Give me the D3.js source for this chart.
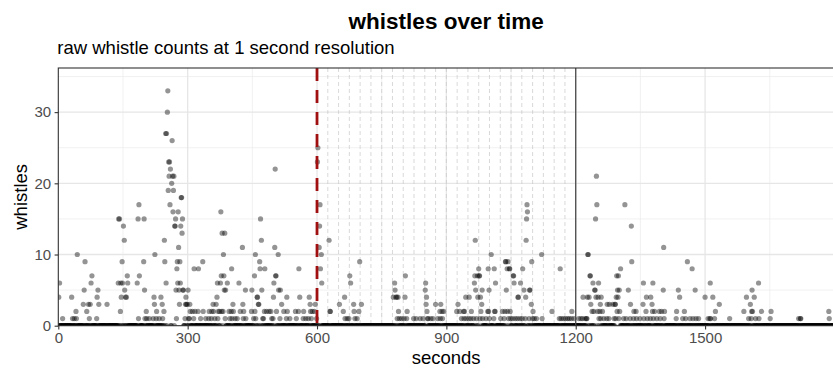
<!DOCTYPE html>
<html>
<head>
<meta charset="utf-8">
<script src="https://cdn.jsdelivr.net/npm/d3@7"></script>
<style>
  body { margin: 0; background: #fff; }
  svg { display: block; }
  text { font-family: "Liberation Sans", Arial, Helvetica, sans-serif; }
</style>
</head>
<body>
<svg id="chart" width="833" height="378"></svg>
<script>
// Whistle counts per second. Every second of the session that is not listed
// below had zero whistles.
const sessionSeconds = 1800;

const countLevels = [1, 2, 3, 4, 5, 6, 7, 8, 9, 10, 11, 12, 13, 14, 15, 16, 17, 18, 19, 20, 21, 22, 23, 25, 26, 27, 30, 33];

const secondsAtLevel = [
  // 1
  [10, 33, 37, 42, 72, 89, 186, 201, 205, 211, 220, 227, 234, 242, 274, 294, 302, 304, 314, 330, 342, 349, 355, 363, 370, 387, 398, 403, 410, 415, 429, 435, 453, 458, 474, 476, 495, 498, 514, 529, 537, 552, 568, 574, 580, 587, 599, 665, 670, 674, 688, 693, 786, 791, 796, 802, 808, 824, 830, 839, 846, 856, 858, 864, 869, 880, 886, 891, 935, 941, 946, 952, 957, 963, 970, 978, 984, 992, 1000, 1010, 1026, 1034, 1044, 1049, 1054, 1060, 1065, 1071, 1076, 1083, 1092, 1100, 1104, 1109, 1122, 1162, 1166, 1171, 1176, 1181, 1185, 1190, 1196, 1207, 1212, 1216, 1222, 1225, 1226, 1254, 1258, 1265, 1272, 1277, 1289, 1293, 1300, 1311, 1317, 1326, 1334, 1341, 1349, 1358, 1366, 1373, 1380, 1388, 1396, 1405, 1433, 1448, 1455, 1465, 1472, 1479, 1485, 1507, 1511, 1513, 1522, 1557, 1601, 1607, 1617, 1625, 1651, 1717, 1721, 1722, 1788],
  // 2
  [41, 66, 144, 204, 228, 245, 306, 311, 317, 324, 336, 350, 356, 360, 371, 374, 379, 382, 396, 401, 406, 422, 430, 448, 456, 478, 483, 489, 493, 506, 523, 531, 550, 557, 569, 585, 589, 594, 630, 631, 661, 686, 697, 789, 809, 855, 885, 890, 894, 924, 931, 940, 942, 958, 980, 996, 998, 1012, 1013, 1030, 1036, 1042, 1048, 1101, 1145, 1191, 1238, 1242, 1251, 1256, 1262, 1296, 1302, 1335, 1340, 1363, 1378, 1383, 1394, 1399, 1406, 1434, 1452, 1524, 1590, 1608, 1610, 1631, 1653, 1787],
  // 3
  [58, 70, 74, 94, 113, 223, 241, 281, 295, 297, 299, 305, 359, 366, 405, 428, 464, 465, 518, 584, 596, 652, 685, 703, 853, 875, 887, 927, 982, 1097, 1235, 1257, 1273, 1278, 1286, 1291, 1292, 1327, 1356, 1377, 1533, 1605],
  // 4
  [1, 31, 90, 146, 156, 158, 222, 238, 296, 368, 461, 462, 499, 530, 560, 582, 664, 777, 783, 785, 788, 804, 854, 945, 953, 973, 979, 1066, 1067, 1084, 1217, 1227, 1231, 1247, 1252, 1259, 1294, 1298, 1364, 1374, 1441, 1500, 1518, 1596, 1614],
  // 5
  [60, 92, 154, 200, 273, 280, 289, 290, 301, 385, 388, 434, 449, 472, 511, 515, 781, 851, 968, 983, 999, 1039, 1080, 1093, 1094, 1244, 1245, 1297, 1301, 1322, 1403, 1438, 1477, 1609],
  // 6
  [3, 76, 139, 145, 149, 161, 183, 250, 277, 283, 369, 376, 392, 419, 500, 611, 678, 780, 852, 965, 1014, 1057, 1072, 1240, 1253, 1357, 1379, 1512, 1624],
  // 7
  [78, 160, 188, 378, 384, 455, 504, 505, 676, 805, 966, 972, 976, 977, 1055, 1056, 1233, 1234, 1295, 1299],
  // 8
  [275, 315, 325, 402, 468, 479, 558, 608, 975, 997, 1011, 1041, 1046, 1047, 1077, 1164, 1304, 1470],
  // 9
  [62, 148, 198, 247, 276, 282, 335, 467, 699, 1037, 1038, 1043, 1098, 1330, 1459],
  // 10
  [44, 224, 383, 457, 510, 610, 1004, 1121, 1228, 1229],
  // 11
  [279, 427, 502, 605, 1404],
  // 12
  [153, 246, 471, 628, 967, 1085],
  // 13
  [287, 380, 386],
  // 14
  [151, 270, 271, 284, 606, 1329],
  // 15
  [140, 142, 185, 199, 272, 288, 469, 1086, 1246],
  // 16
  [266, 278, 377, 1088],
  // 17
  [187, 259, 607, 1087, 1249, 1314],
  // 18
  [285, 286],
  // 19
  [255, 267],
  // 20
  [263],
  // 21
  [257, 265, 268, 1248],
  // 22
  [260, 503],
  // 23
  [256, 258, 601],
  // 25
  [602],
  // 26
  [264],
  // 27
  [249, 251],
  // 30
  [253],
  // 33
  [254]
];

const xTickValues = [0, 300, 600, 900, 1200, 1500];
const yTickValues = [0, 10, 20, 30];

// Reference lines: start of the treatment window, its end, and 25 s sub-intervals.
const windowStart = 600;
const windowEnd = 1200;
const subIntervalStep = 25;

const titleText = "whistles over time";
const subtitleText = "raw whistle counts at 1 second resolution";
const xTitle = "seconds";
const yTitle = "whistles";

// ---- build the per-second table ----
const counted = new Map();
countLevels.forEach((lvl, i) => secondsAtLevel[i].forEach(s => counted.set(s, lvl)));
const records = [];
for (let s = 0; s < sessionSeconds; s++) {
  records.push({ sec: s, whistles: counted.has(s) ? counted.get(s) : 0 });
}
// zero seconds first so the counted points sit on top
records.sort((a, b) => (a.whistles > 0) - (b.whistles > 0) || a.sec - b.sec);

// ---- layout ----
const svg = d3.select("#chart");
const panel = { left: 58.3, right: 834, top: 68, bottom: 325.7 };

const x = d3.scaleLinear().domain([0, sessionSeconds - 1]).range([panel.left, panel.right]);
const y = d3.scaleLinear().domain([0, 36.2]).range([panel.bottom, panel.top]);

svg.append("rect").attr("width", 833).attr("height", 378).attr("fill", "#fff");

svg.append("defs").append("clipPath").attr("id", "panelClip")
  .append("rect")
  .attr("x", panel.left).attr("y", panel.top)
  .attr("width", panel.right - panel.left).attr("height", panel.bottom - panel.top);

const plot = svg.append("g").attr("clip-path", "url(#panelClip)");

// grid: minor then major
const xMinor = d3.range(150, sessionSeconds, 300);
const yMinor = [5, 15, 25, 35];
plot.append("g").selectAll("line").data(xMinor).join("line")
  .attr("x1", d => x(d)).attr("x2", d => x(d))
  .attr("y1", panel.top).attr("y2", panel.bottom)
  .attr("stroke", "#EBEBEB").attr("stroke-width", 0.7);
plot.append("g").selectAll("line").data(yMinor).join("line")
  .attr("y1", d => y(d)).attr("y2", d => y(d))
  .attr("x1", panel.left).attr("x2", panel.right)
  .attr("stroke", "#EBEBEB").attr("stroke-width", 0.7);
plot.append("g").selectAll("line").data(xTickValues).join("line")
  .attr("x1", d => x(d)).attr("x2", d => x(d))
  .attr("y1", panel.top).attr("y2", panel.bottom)
  .attr("stroke", "#E6E6E6").attr("stroke-width", 1.3);
plot.append("g").selectAll("line").data(yTickValues).join("line")
  .attr("y1", d => y(d)).attr("y2", d => y(d))
  .attr("x1", panel.left).attr("x2", panel.right)
  .attr("stroke", "#E6E6E6").attr("stroke-width", 1.3);

// sub-interval markers inside the window
const subMarks = d3.range(windowStart + subIntervalStep, windowEnd, subIntervalStep);
plot.append("g").selectAll("line").data(subMarks).join("line")
  .attr("x1", d => x(d)).attr("x2", d => x(d))
  .attr("y1", panel.top).attr("y2", panel.bottom)
  .attr("stroke", "#C8C8C8").attr("stroke-width", 0.7)
  .attr("stroke-dasharray", "4,3");

// points
plot.append("g").selectAll("circle").data(records).join("circle")
  .attr("cx", d => x(d.sec))
  .attr("cy", d => y(d.whistles))
  .attr("r", 2.6)
  .attr("fill", "#000")
  .attr("fill-opacity", 0.42);

// window start (dashed) and end (solid)
plot.append("line")
  .attr("x1", x(windowStart)).attr("x2", x(windowStart))
  .attr("y1", panel.top).attr("y2", panel.bottom)
  .attr("stroke", "#A01010").attr("stroke-width", 2.8)
  .attr("stroke-dasharray", "13,9");
plot.append("line")
  .attr("x1", x(windowEnd)).attr("x2", x(windowEnd))
  .attr("y1", panel.top).attr("y2", panel.bottom)
  .attr("stroke", "#4a4a4a").attr("stroke-width", 1.3);

// panel border
svg.append("rect")
  .attr("x", panel.left).attr("y", panel.top)
  .attr("width", panel.right - panel.left).attr("height", panel.bottom - panel.top)
  .attr("fill", "none").attr("stroke", "#333").attr("stroke-width", 1.1);

// axes
const xAxis = d3.axisBottom(x).tickValues(xTickValues).tickFormat(d3.format("d"))
  .tickSize(3.7).tickPadding(3);
const gx = svg.append("g").attr("transform", `translate(0,${panel.bottom})`).call(xAxis);
gx.select(".domain").remove();
gx.selectAll(".tick line").attr("stroke", "#333").attr("stroke-width", 1.1);
gx.selectAll(".tick text").attr("fill", "#4D4D4D").attr("font-size", 15)
  .attr("font-family", "Liberation Sans, Arial, sans-serif");

const yAxis = d3.axisLeft(y).tickValues(yTickValues).tickFormat(d3.format("d"))
  .tickSize(3.7).tickPadding(3.5);
const gy = svg.append("g").attr("transform", `translate(${panel.left},0)`).call(yAxis);
gy.select(".domain").remove();
gy.selectAll(".tick line").attr("stroke", "#333").attr("stroke-width", 1.1);
gy.selectAll(".tick text").attr("fill", "#4D4D4D").attr("font-size", 15)
  .attr("font-family", "Liberation Sans, Arial, sans-serif");

// titles
const cx = (panel.left + panel.right) / 2;
svg.append("text").attr("x", cx).attr("y", 28.5)
  .attr("text-anchor", "middle").attr("font-size", 22.5).attr("font-weight", "bold")
  .attr("fill", "#000").text(titleText);
svg.append("text").attr("x", panel.left - 1).attr("y", 54)
  .attr("font-size", 18.5).attr("fill", "#000").text(subtitleText);
svg.append("text").attr("x", cx).attr("y", 364)
  .attr("text-anchor", "middle").attr("font-size", 18.5).attr("fill", "#000").text(xTitle);
svg.append("text")
  .attr("transform", `translate(27,${(panel.top + panel.bottom) / 2}) rotate(-90)`)
  .attr("text-anchor", "middle").attr("font-size", 18.5).attr("fill", "#000").text(yTitle);
</script>
</body>
</html>
